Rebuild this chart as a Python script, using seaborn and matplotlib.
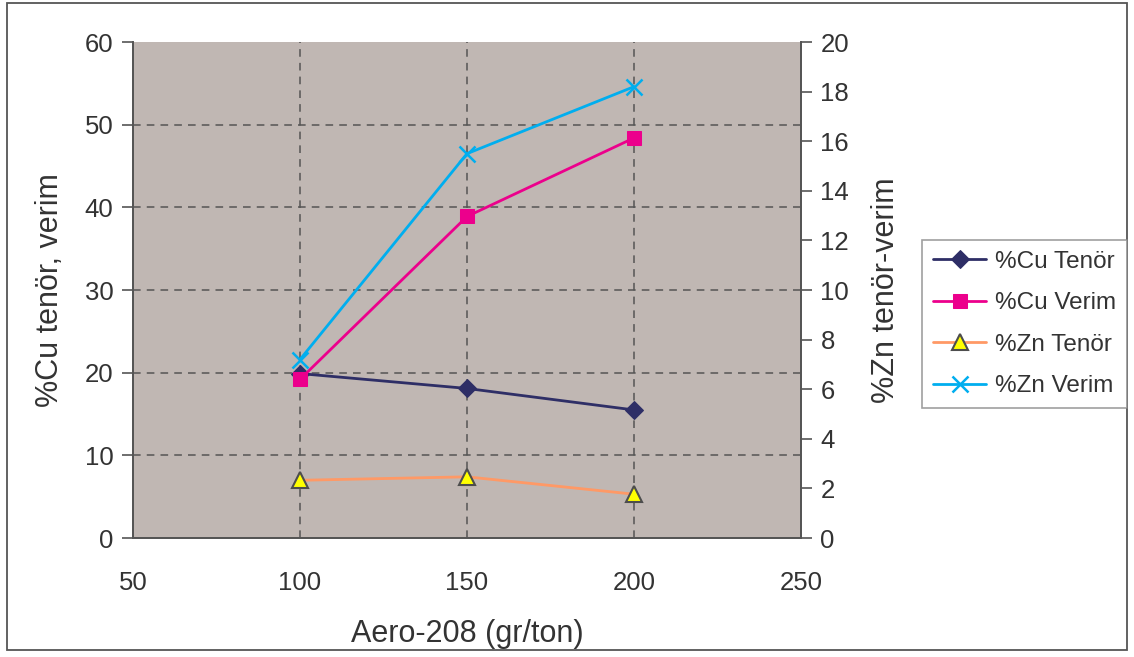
import numpy as np
import pandas as pd
import matplotlib
matplotlib.use("Agg")
import matplotlib.pyplot as plt
import seaborn as sns
from matplotlib.patches import Rectangle

# values
dosage = [100, 150, 200]
cu_tenor = [19.9, 18.1, 15.5]
cu_verim = [19.2, 38.9, 48.4]
zn_tenor = [2.33, 2.47, 1.77]
zn_verim = [7.2, 15.5, 18.2]

sns.set_style("white")
plt.rcParams['font.family'] = ['Liberation Sans', 'DejaVu Sans']
text_col = '#333333'

fig = plt.figure(figsize=(11.34, 6.57), dpi=100)
ax = fig.add_axes([0.1173, 0.181, 0.5890, 0.755])
ax2 = ax.twinx()
ax.set_facecolor('#C0B7B3')

# Cu series on left axis
sns.lineplot(x=dosage, y=cu_tenor, ax=ax, color='#2E2E66', marker='D', markersize=9,
             markeredgecolor='#2E2E66', linewidth=2, label='%Cu Tenör', legend=False)
sns.lineplot(x=dosage, y=cu_verim, ax=ax, color='#EC008C', marker='s', markersize=10,
             markeredgecolor='#EC008C', linewidth=2, label='%Cu Verim', legend=False)
# Zn series on right axis
sns.lineplot(x=dosage, y=zn_tenor, ax=ax2, color='#FF9966', marker='^', markersize=11,
             markerfacecolor='#FFFF00', markeredgecolor='#4D4D4D', markeredgewidth=1.5,
             linewidth=2, label='%Zn Tenör', legend=False)
sns.lineplot(x=dosage, y=zn_verim, ax=ax2, color='#00AEEF', marker='x', markersize=11,
             markeredgecolor='#00AEEF', markeredgewidth=1.8, linewidth=2,
             label='%Zn Verim', legend=False)

ax.set_xlim(50, 250)
ax.set_ylim(0, 60)
ax2.set_ylim(0, 20)
ax.set_xticks(np.arange(50, 251, 50))
ax.set_yticks(np.arange(0, 61, 10))
ax2.set_yticks(np.arange(0, 21, 2))

# grid
for xv in [100, 150, 200]:
    ax.axvline(xv, color='#555555', linestyle=(0, (5, 4)), linewidth=1.1, zorder=0.5)
for yv in [10, 20, 30, 40, 50]:
    ax.axhline(yv, color='#555555', linestyle=(0, (5, 4)), linewidth=1.1, zorder=0.5)

for a in (ax, ax2):
    for s in a.spines.values():
        s.set_color('#555555')
        s.set_linewidth(1.3)
    a.spines['top'].set_visible(False)
    a.tick_params(axis='both', labelsize=18.5, colors='#555555', labelcolor=text_col,
                  length=8, width=1.2, direction='out', pad=6)
ax.tick_params(axis='x', pad=16)

ax.set_xlabel('Aero-208 (gr/ton)', fontsize=22, color=text_col, labelpad=17)
ax.set_ylabel('%Cu tenör, verim', fontsize=22, color=text_col, labelpad=14)
ax2.set_ylabel('%Zn tenör-verim', fontsize=22, color=text_col, labelpad=16)

h1, l1 = ax.get_legend_handles_labels()
h2, l2 = ax2.get_legend_handles_labels()
leg = fig.legend(h1 + h2, l1 + l2, loc='upper left', bbox_to_anchor=(0.813, 0.635),
                 fontsize=17.5, frameon=True, fancybox=False, edgecolor='#888888',
                 handlelength=2.2, handletextpad=0.35, labelcolor=text_col,
                 borderpad=0.45, borderaxespad=0, labelspacing=0.8)
leg.get_frame().set_linewidth(1.2)

fig.patches.append(Rectangle((0.006, 0.010), 0.988, 0.985, transform=fig.transFigure,
                             fill=False, edgecolor='#555555', linewidth=1.3))

fig.savefig('out.png', dpi=100)
